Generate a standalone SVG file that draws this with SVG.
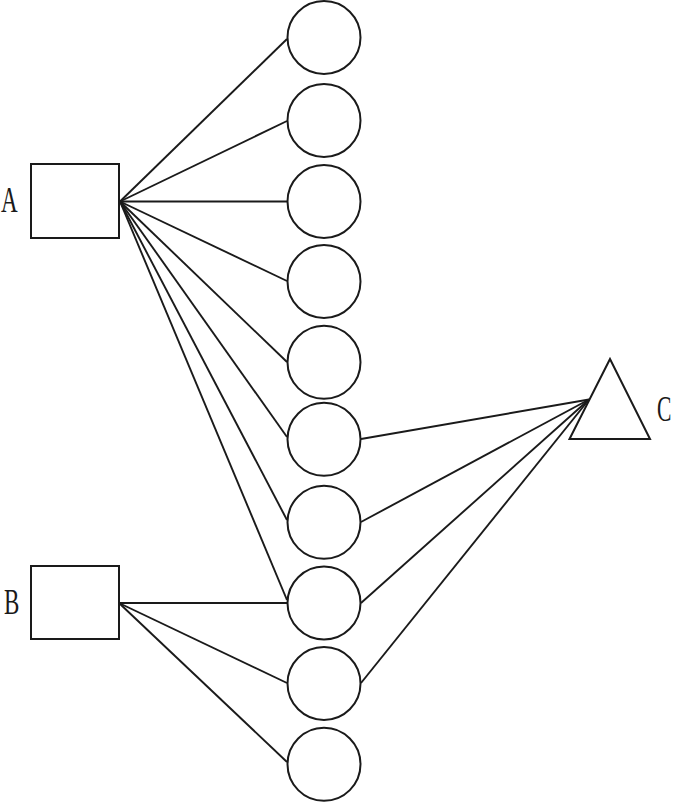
<svg xmlns="http://www.w3.org/2000/svg" width="675" height="802" viewBox="0 0 675 802">
<style>
.s{fill:#fff;stroke:#1a1a1a;stroke-width:2}
.e{stroke:#1a1a1a;stroke-width:1.9;fill:none}
.t{font-family:"Liberation Serif","Times New Roman",serif;font-size:36px;fill:#1a1a1a}
</style>
<rect width="675" height="802" fill="#fff"/>
<g id="connectors">
<line class="e" x1="120" y1="201.5" x2="287" y2="39"/>
<line class="e" x1="120" y1="201.5" x2="287" y2="121"/>
<line class="e" x1="120" y1="201.5" x2="287" y2="201.5"/>
<line class="e" x1="120" y1="201.5" x2="287" y2="281"/>
<line class="e" x1="120" y1="201.5" x2="287" y2="362"/>
<line class="e" x1="120" y1="201.5" x2="287" y2="437"/>
<line class="e" x1="120" y1="201.5" x2="287" y2="520"/>
<line class="e" x1="120" y1="201.5" x2="287" y2="600"/>
<line class="e" x1="119" y1="603" x2="287" y2="603"/>
<line class="e" x1="119" y1="603" x2="287" y2="683"/>
<line class="e" x1="119" y1="603" x2="287" y2="762"/>
<line class="e" x1="589" y1="399.5" x2="361" y2="439"/>
<line class="e" x1="589" y1="399.5" x2="361" y2="522"/>
<line class="e" x1="589" y1="399.5" x2="361" y2="603"/>
<line class="e" x1="589" y1="399.5" x2="361" y2="683"/>
</g>
<g id="nodeA"><rect class="s" x="31" y="164" width="88" height="74"/><text class="t" transform="translate(1,212) scale(0.64,1)">A</text></g>
<g id="nodeB"><rect class="s" x="31" y="566" width="88" height="73"/><text class="t" transform="translate(4,614) scale(0.64,1)">B</text></g>
<g id="nodeC"><polygon class="s" points="610,359 569.5,439 650,439"/><text class="t" transform="translate(657,421) scale(0.6,1)">C</text></g>
<g id="c1"><circle class="s" cx="324" cy="37.5" r="36.5"/></g>
<g id="c2"><circle class="s" cx="324" cy="120.5" r="36.5"/></g>
<g id="c3"><circle class="s" cx="324" cy="201.5" r="36.5"/></g>
<g id="c4"><circle class="s" cx="324" cy="281.5" r="36.5"/></g>
<g id="c5"><circle class="s" cx="324" cy="362.3" r="36.5"/></g>
<g id="c6"><circle class="s" cx="324" cy="439.3" r="36.5"/></g>
<g id="c7"><circle class="s" cx="324" cy="522.3" r="36.5"/></g>
<g id="c8"><circle class="s" cx="324" cy="603" r="36.5"/></g>
<g id="c9"><circle class="s" cx="324" cy="683.5" r="36.5"/></g>
<g id="c10"><circle class="s" cx="324" cy="764.3" r="36.5"/></g>
</svg>
